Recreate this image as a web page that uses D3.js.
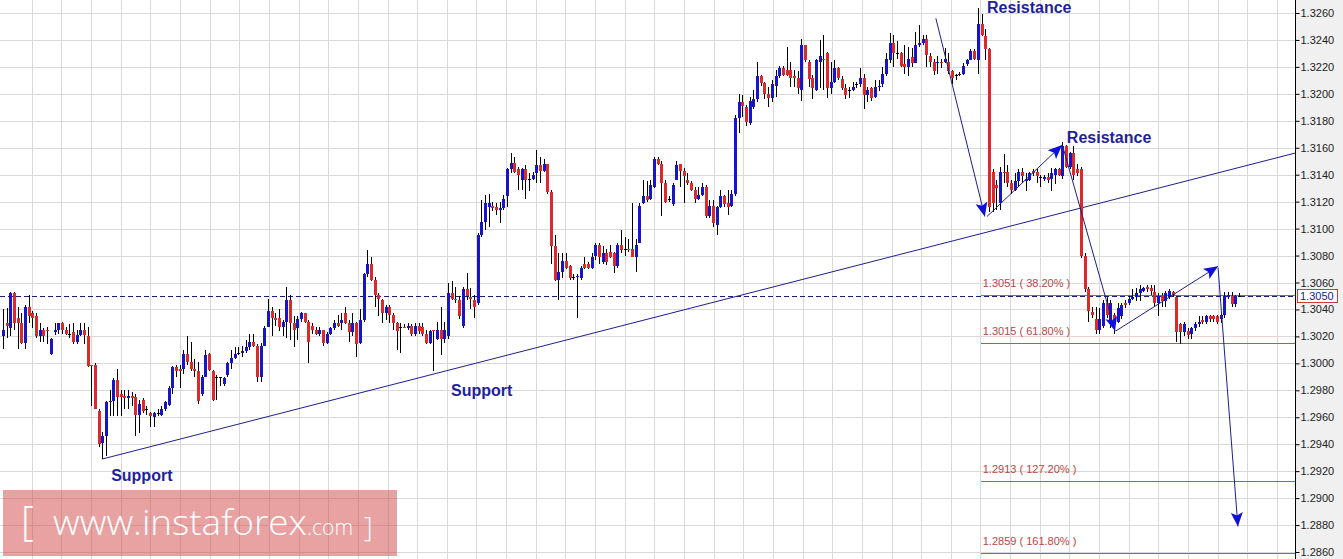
<!DOCTYPE html>
<html><head><meta charset="utf-8">
<script src="https://cdn.jsdelivr.net/npm/d3@7"></script>
<style>html,body{margin:0;padding:0;background:#fff;overflow:hidden}</style>
</head><body>
<svg id="chart" width="1343" height="559"></svg>
<script>
// ---------- DATA ----------
const opens = [1.3020,1.3030,1.3026,1.3052,1.3034,1.3030,1.3015,1.3042,1.3037,1.3035,1.3020,1.3025,1.3025,1.3007,1.3023,1.3025,1.3030,1.3025,1.3022,1.3023,
1.3016,1.3021,1.3025,1.3020,1.2999,1.2999,1.2965,1.2941,1.2946,1.2971,1.2972,1.2988,1.2977,1.2976,1.2974,1.2976,1.2975,1.2962,1.2973,1.2966,
1.2963,1.2960,1.2963,1.2962,1.2966,1.2969,1.2982,1.2997,1.2996,1.2996,1.3007,1.3001,1.2996,1.2994,1.2977,1.2990,1.3007,1.2994,1.2990,1.2990,
1.2985,1.2991,1.3000,1.3004,1.3008,1.3008,1.3009,1.3012,1.3016,1.3013,1.2990,1.3013,1.3027,1.3039,1.3034,1.3034,1.3027,1.3031,1.3047,1.3030,
1.3026,1.3033,1.3037,1.3031,1.3028,1.3025,1.3022,1.3025,1.3015,1.3022,1.3026,1.3030,1.3030,1.3037,1.3030,1.3023,1.3030,1.3015,1.3032,1.3066,
1.3074,1.3062,1.3051,1.3047,1.3037,1.3042,1.3036,1.3030,1.3027,1.3027,1.3026,1.3028,1.3022,1.3028,1.3027,1.3022,1.3015,1.3025,1.3018,1.3025,
1.3018,1.3020,1.3052,1.3048,1.3047,1.3028,1.3055,1.3049,1.3047,1.3045,1.3095,1.3105,1.3116,1.3117,1.3116,1.3114,1.3115,1.3124,1.3144,1.3149,
1.3144,1.3136,1.3144,1.3137,1.3137,1.3141,1.3147,1.3143,1.3148,1.3127,1.3087,1.3062,1.3068,1.3076,1.3072,1.3064,1.3064,1.3063,1.3074,1.3074,
1.3071,1.3080,1.3088,1.3075,1.3082,1.3083,1.3082,1.3072,1.3088,1.3085,1.3085,1.3085,1.3079,1.3089,1.3119,1.3124,1.3122,1.3131,1.3152,1.3148,
1.3134,1.3122,1.3118,1.3136,1.3148,1.3143,1.3136,1.3134,1.3129,1.3122,1.3125,1.3131,1.3109,1.3117,1.3103,1.3116,1.3124,1.3119,1.3117,1.3126,
1.3182,1.3194,1.3190,1.3178,1.3190,1.3196,1.3213,1.3208,1.3200,1.3197,1.3206,1.3213,1.3219,1.3218,1.3218,1.3213,1.3212,1.3203,1.3236,1.3224,
1.3212,1.3203,1.3224,1.3226,1.3230,1.3204,1.3209,1.3219,1.3211,1.3204,1.3203,1.3203,1.3207,1.3207,1.3212,1.3199,1.3204,1.3198,1.3205,1.3207,
1.3215,1.3225,1.3238,1.3230,1.3230,1.3222,1.3220,1.3227,1.3223,1.3236,1.3238,1.3241,1.3228,1.3224,1.3223,1.3224,1.3224,1.3224,1.3217,1.3214,
1.3214,1.3215,1.3222,1.3225,1.3232,1.3225,1.3252,1.3243,1.3233,1.3142,1.3132,1.3119,1.3142,1.3142,1.3134,1.3129,1.3135,1.3142,1.3135,1.3136,
1.3143,1.3142,1.3138,1.3137,1.3138,1.3137,1.3140,1.3144,1.3139,1.3161,1.3146,1.3156,1.3144,1.3144,1.3080,1.3055,1.3038,1.3033,1.3025,1.3028,
1.3045,1.3029,1.3036,1.3031,1.3035,1.3045,1.3045,1.3048,1.3049,1.3052,1.3054,1.3057,1.3056,1.3053,1.3045,1.3051,1.3046,1.3050,1.3053,1.3049,
1.3029,1.3023,1.3024,1.3022,1.3026,1.3029,1.3032,1.3031,1.3035,1.3035,1.3035,1.3033,1.3036,1.3049,1.3050,1.3044,1.3050];
const highs = [1.3040,1.3041,1.3053,1.3053,1.3042,1.3037,1.3043,1.3051,1.3039,1.3037,1.3030,1.3026,1.3027,1.3019,1.3030,1.3030,1.3031,1.3027,1.3029,1.3030,
1.3025,1.3030,1.3030,1.3027,1.2999,1.3000,1.2966,1.2949,1.2972,1.2980,1.2989,1.2996,1.2980,1.2980,1.2980,1.2979,1.2977,1.2973,1.2974,1.2968,
1.2964,1.2964,1.2966,1.2968,1.2972,1.2983,1.2998,1.2999,1.2999,1.3010,1.3020,1.3016,1.3003,1.3001,1.2991,1.3010,1.3008,1.2995,1.2991,1.2990,
1.2990,1.3001,1.3010,1.3012,1.3012,1.3013,1.3017,1.3022,1.3022,1.3014,1.3015,1.3028,1.3048,1.3042,1.3037,1.3040,1.3032,1.3057,1.3051,1.3035,
1.3035,1.3038,1.3037,1.3032,1.3030,1.3027,1.3027,1.3025,1.3023,1.3027,1.3032,1.3036,1.3037,1.3042,1.3032,1.3037,1.3031,1.3040,1.3067,1.3084,
1.3079,1.3064,1.3052,1.3048,1.3043,1.3043,1.3037,1.3031,1.3030,1.3029,1.3030,1.3029,1.3030,1.3030,1.3030,1.3025,1.3025,1.3025,1.3031,1.3042,
1.3031,1.3060,1.3061,1.3057,1.3050,1.3057,1.3067,1.3056,1.3051,1.3097,1.3121,1.3125,1.3126,1.3120,1.3119,1.3120,1.3125,1.3145,1.3156,1.3153,
1.3146,1.3145,1.3147,1.3141,1.3142,1.3158,1.3153,1.3152,1.3148,1.3129,1.3095,1.3082,1.3082,1.3082,1.3073,1.3066,1.3066,1.3072,1.3079,1.3075,
1.3082,1.3089,1.3089,1.3087,1.3085,1.3088,1.3083,1.3089,1.3099,1.3094,1.3092,1.3119,1.3092,1.3119,1.3136,1.3135,1.3136,1.3153,1.3153,1.3150,
1.3136,1.3124,1.3134,1.3150,1.3148,1.3145,1.3141,1.3135,1.3131,1.3131,1.3134,1.3132,1.3121,1.3121,1.3117,1.3129,1.3125,1.3129,1.3129,1.3184,
1.3200,1.3199,1.3192,1.3198,1.3203,1.3224,1.3214,1.3209,1.3205,1.3210,1.3218,1.3221,1.3221,1.3235,1.3224,1.3218,1.3217,1.3241,1.3236,1.3225,
1.3214,1.3226,1.3240,1.3244,1.3231,1.3224,1.3225,1.3220,1.3213,1.3207,1.3205,1.3209,1.3209,1.3219,1.3215,1.3205,1.3205,1.3210,1.3210,1.3220,
1.3230,1.3245,1.3244,1.3239,1.3231,1.3236,1.3235,1.3234,1.3246,1.3251,1.3244,1.3244,1.3230,1.3226,1.3228,1.3226,1.3234,1.3230,1.3218,1.3215,
1.3216,1.3223,1.3226,1.3233,1.3233,1.3264,1.3259,1.3248,1.3234,1.3144,1.3136,1.3146,1.3155,1.3147,1.3136,1.3141,1.3144,1.3145,1.3141,1.3142,
1.3144,1.3144,1.3140,1.3140,1.3141,1.3145,1.3145,1.3145,1.3164,1.3162,1.3157,1.3161,1.3148,1.3146,1.3082,1.3057,1.3042,1.3042,1.3041,1.3047,
1.3049,1.3047,1.3037,1.3045,1.3045,1.3047,1.3050,1.3055,1.3056,1.3058,1.3057,1.3058,1.3058,1.3058,1.3052,1.3052,1.3054,1.3055,1.3054,1.3050,
1.3030,1.3031,1.3026,1.3027,1.3031,1.3035,1.3035,1.3036,1.3036,1.3036,1.3036,1.3038,1.3053,1.3053,1.3053,1.3051,1.3052];
const lows = [1.3011,1.3019,1.3020,1.3025,1.3011,1.3014,1.3011,1.3030,1.3026,1.3019,1.3016,1.3016,1.3014,1.3006,1.3021,1.3022,1.3022,1.3021,1.3019,1.3014,
1.3014,1.3020,1.3014,1.2997,1.2968,1.2966,1.2938,1.2929,1.2931,1.2961,1.2961,1.2961,1.2961,1.2966,1.2966,1.2968,1.2946,1.2948,1.2963,1.2962,
1.2953,1.2953,1.2961,1.2961,1.2965,1.2968,1.2977,1.2990,1.2982,1.2992,1.2999,1.2994,1.2990,1.2970,1.2976,1.2990,1.2994,1.2972,1.2973,1.2983,
1.2983,1.2990,1.2996,1.3003,1.3006,1.3005,1.3008,1.3010,1.3012,1.2986,1.2986,1.3013,1.3027,1.3020,1.3028,1.3024,1.3020,1.3019,1.3017,1.3012,
1.3017,1.3031,1.3030,1.3000,1.3022,1.3021,1.3020,1.3013,1.3014,1.3021,1.3025,1.3027,1.3025,1.3029,1.3016,1.3020,1.3005,1.3014,1.3031,1.3064,
1.3061,1.3042,1.3035,1.3030,1.3032,1.3030,1.3025,1.3010,1.3008,1.3026,1.3025,1.3020,1.3020,1.3022,1.3020,1.3014,1.3014,1.2994,1.3017,1.3006,
1.3015,1.3018,1.3047,1.3045,1.3033,1.3026,1.3047,1.3040,1.3034,1.3043,1.3094,1.3099,1.3101,1.3113,1.3110,1.3104,1.3114,1.3116,1.3141,1.3141,
1.3129,1.3129,1.3122,1.3128,1.3136,1.3134,1.3134,1.3142,1.3126,1.3074,1.3061,1.3047,1.3063,1.3070,1.3062,1.3062,1.3034,1.3062,1.3070,1.3070,
1.3070,1.3077,1.3074,1.3074,1.3073,1.3078,1.3067,1.3071,1.3082,1.3080,1.3083,1.3079,1.3068,1.3089,1.3118,1.3120,1.3121,1.3130,1.3147,1.3109,
1.3119,1.3120,1.3117,1.3136,1.3131,1.3119,1.3132,1.3128,1.3119,1.3121,1.3124,1.3108,1.3108,1.3101,1.3095,1.3115,1.3116,1.3110,1.3116,1.3124,
1.3171,1.3183,1.3176,1.3177,1.3189,1.3194,1.3206,1.3196,1.3190,1.3194,1.3198,1.3212,1.3213,1.3213,1.3205,1.3205,1.3200,1.3195,1.3224,1.3205,
1.3196,1.3202,1.3204,1.3203,1.3197,1.3200,1.3208,1.3210,1.3203,1.3196,1.3197,1.3202,1.3204,1.3205,1.3189,1.3194,1.3195,1.3197,1.3202,1.3205,
1.3213,1.3223,1.3220,1.3226,1.3220,1.3215,1.3213,1.3220,1.3223,1.3235,1.3236,1.3220,1.3220,1.3214,1.3215,1.3219,1.3223,1.3215,1.3207,1.3210,
1.3213,1.3214,1.3221,1.3225,1.3225,1.3215,1.3243,1.3225,1.3112,1.3112,1.3114,1.3114,1.3134,1.3131,1.3126,1.3128,1.3131,1.3134,1.3128,1.3135,
1.3139,1.3134,1.3131,1.3135,1.3134,1.3128,1.3133,1.3139,1.3137,1.3145,1.3144,1.3136,1.3139,1.3078,1.3053,1.3031,1.3034,1.3022,1.3022,1.3026,
1.3034,1.3026,1.3022,1.3030,1.3033,1.3041,1.3043,1.3047,1.3046,1.3046,1.3053,1.3053,1.3051,1.3042,1.3035,1.3042,1.3042,1.3048,1.3049,1.3016,
1.3014,1.3020,1.3018,1.3018,1.3024,1.3027,1.3029,1.3029,1.3031,1.3031,1.3029,1.3030,1.3034,1.3048,1.3042,1.3042,1.3049];
const closes = [1.3025,1.3028,1.3052,1.3030,1.3030,1.3015,1.3042,1.3035,1.3034,1.3020,1.3025,1.3020,1.3024,1.3018,1.3025,1.3030,1.3025,1.3022,1.3022,1.3016,
1.3021,1.3025,1.3021,1.2998,1.2998,1.2966,1.2940,1.2946,1.2971,1.2972,1.2988,1.2975,1.2975,1.2974,1.2976,1.2974,1.2962,1.2970,1.2965,1.2966,
1.2961,1.2963,1.2963,1.2966,1.2971,1.2982,1.2997,1.2994,1.2994,1.3007,1.3001,1.2996,1.2994,1.2972,1.2990,1.3006,1.2995,1.2973,1.2990,1.2990,
1.2989,1.3000,1.3004,1.3007,1.3008,1.3009,1.3012,1.3016,1.3013,1.2990,1.3013,1.3026,1.3039,1.3034,1.3032,1.3027,1.3031,1.3047,1.3030,1.3025,
1.3033,1.3037,1.3031,1.3016,1.3025,1.3022,1.3025,1.3015,1.3022,1.3026,1.3030,1.3028,1.3032,1.3030,1.3023,1.3030,1.3014,1.3032,1.3066,1.3074,
1.3062,1.3051,1.3048,1.3037,1.3042,1.3036,1.3030,1.3024,1.3027,1.3026,1.3028,1.3022,1.3028,1.3024,1.3022,1.3015,1.3024,1.3024,1.3025,1.3018,
1.3025,1.3052,1.3048,1.3047,1.3035,1.3055,1.3050,1.3048,1.3042,1.3095,1.3105,1.3119,1.3119,1.3115,1.3114,1.3115,1.3122,1.3144,1.3149,1.3142,
1.3140,1.3144,1.3136,1.3137,1.3140,1.3147,1.3143,1.3148,1.3127,1.3087,1.3062,1.3068,1.3076,1.3071,1.3063,1.3064,1.3065,1.3071,1.3071,1.3071,
1.3079,1.3088,1.3079,1.3082,1.3075,1.3079,1.3072,1.3088,1.3084,1.3085,1.3084,1.3079,1.3088,1.3117,1.3124,1.3121,1.3132,1.3152,1.3148,1.3134,
1.3120,1.3122,1.3132,1.3147,1.3143,1.3139,1.3134,1.3129,1.3122,1.3125,1.3131,1.3109,1.3117,1.3104,1.3116,1.3124,1.3118,1.3116,1.3126,1.3182,
1.3194,1.3191,1.3179,1.3195,1.3196,1.3213,1.3208,1.3200,1.3197,1.3207,1.3213,1.3219,1.3214,1.3214,1.3212,1.3212,1.3204,1.3236,1.3225,1.3211,
1.3204,1.3225,1.3228,1.3225,1.3204,1.3209,1.3219,1.3212,1.3204,1.3199,1.3203,1.3205,1.3207,1.3212,1.3199,1.3203,1.3197,1.3205,1.3206,1.3215,
1.3226,1.3238,1.3230,1.3230,1.3221,1.3220,1.3226,1.3223,1.3236,1.3238,1.3241,1.3229,1.3224,1.3217,1.3224,1.3223,1.3226,1.3217,1.3212,1.3214,
1.3215,1.3221,1.3225,1.3232,1.3226,1.3252,1.3244,1.3233,1.3116,1.3119,1.3130,1.3142,1.3141,1.3134,1.3129,1.3135,1.3142,1.3139,1.3137,1.3141,
1.3141,1.3139,1.3138,1.3138,1.3136,1.3141,1.3144,1.3140,1.3161,1.3146,1.3156,1.3140,1.3141,1.3080,1.3055,1.3039,1.3036,1.3025,1.3033,1.3045,
1.3036,1.3045,1.3030,1.3041,1.3043,1.3043,1.3048,1.3049,1.3052,1.3055,1.3056,1.3055,1.3054,1.3045,1.3050,1.3046,1.3052,1.3054,1.3051,1.3023,
1.3023,1.3029,1.3021,1.3026,1.3029,1.3031,1.3031,1.3035,1.3033,1.3033,1.3031,1.3036,1.3050,1.3051,1.3044,1.3050,1.3050];

const priceTicks = [1.3260,1.3240,1.3220,1.3200,1.3180,1.3160,1.3140,1.3120,1.3100,1.3080,1.3060,1.3040,1.3020,1.3000,1.2980,1.2960,1.2940,1.2920,1.2900,1.2880,1.2860];
const currentPrice = 1.3050;
const fibLevels = [1.3051, 1.3015, 1.2913, 1.2859];
const fibLabels = ["1.3051 ( 38.20% )", "1.3015 ( 61.80% )", "1.2913 ( 127.20% )", "1.2859 ( 161.80% )"];
const fibStartBar = 265.8;
const trendLine = [[27, 1.2929], [351.2, 1.3156]];
const arrowPaths = [
  [[253.6, 1.3256], [266.9, 1.3109]],
  [[267.5, 1.3109], [287.9, 1.3162]],
  [[288.1, 1.3161], [302.3, 1.3024]],
  [[302.5, 1.3024], [330.3, 1.3072]],
  [[330.3, 1.3071], [335.7, 1.2879]]
];
const noteTexts = ["Resistance", "Resistance", "Support", "Support"];
const noteBars = [267.5, 289.2, 121.8, 29.4];
const notePrices = [1.3260, 1.31635, 1.29758, 1.29127];

// ---------- LAYOUT ----------
const W = 1343, H = 559, axisX = 1295;
const svg = d3.select("#chart");
const x = d3.scaleLinear().domain([0, closes.length - 1]).range([3, 1239]);
const y = d3.scaleLinear().domain([1.2860, 1.3260]).range([552, 13]);
const gridX = d3.scaleLinear().domain([0, 42]).range([31.7, 1277]);

svg.append("rect").attr("width", W).attr("height", H).attr("fill", "#ffffff");
svg.append("rect").attr("x", axisX).attr("width", W - axisX).attr("height", H).attr("fill", "#f0f0f0");

// grid
const grid = svg.append("g").attr("stroke", "#d9d9d9").attr("stroke-width", 1).attr("shape-rendering", "crispEdges");
grid.selectAll("line.v").data(d3.range(0, 43)).join("line")
  .attr("x1", d => Math.round(gridX(d)) + 0.5).attr("x2", d => Math.round(gridX(d)) + 0.5)
  .attr("y1", 0).attr("y2", H);
grid.selectAll("line.h").data(priceTicks).join("line")
  .attr("x1", 0).attr("x2", axisX)
  .attr("y1", d => Math.round(y(d)) + 0.5).attr("y2", d => Math.round(y(d)) + 0.5);

// watermark
svg.append("rect").attr("x", 3).attr("y", 490).attr("width", 394).attr("height", 66)
  .attr("fill", "rgb(212,70,70)").attr("fill-opacity", 0.5);
const wm = svg.append("g").attr("fill", "#ffffff").attr("font-family", "'Open Sans', 'Noto Sans', sans-serif").attr("font-weight", 300);
wm.append("text").attr("x", 21).attr("y", 535).attr("font-size", 40).text("[");
wm.append("text").attr("x", 53).attr("y", 535).attr("font-size", 35)
  .attr("textLength", 254).attr("lengthAdjust", "spacingAndGlyphs").text("www.instaforex");
wm.append("text").attr("x", 307).attr("y", 535).attr("font-size", 22)
  .attr("textLength", 46).attr("lengthAdjust", "spacingAndGlyphs").text(".com");
wm.append("text").attr("x", 364).attr("y", 537).attr("font-size", 27).text("]");

// trend line
svg.append("line")
  .attr("x1", x(trendLine[0][0])).attr("y1", y(trendLine[0][1]))
  .attr("x2", x(trendLine[1][0])).attr("y2", y(trendLine[1][1]))
  .attr("stroke", "#1e1e8c").attr("stroke-width", 1);

// fibonacci levels
const fib = svg.append("g");
fib.selectAll("line").data(fibLevels).join("line")
  .attr("x1", x(fibStartBar)).attr("x2", axisX)
  .attr("y1", d => Math.round(y(d)) + 0.5).attr("y2", d => Math.round(y(d)) + 0.5)
  .attr("stroke", "#c9504f").attr("stroke-width", 1).attr("shape-rendering", "crispEdges");
fib.selectAll("text").data(fibLevels).join("text")
  .attr("x", x(fibStartBar) + 2).attr("y", d => y(d) - 8)
  .attr("font-family", "'Liberation Sans', Arial, sans-serif").attr("font-size", 11)
  .attr("fill", "#b84646").text((d, i) => fibLabels[i]);

// current price dashed line
svg.append("line").attr("x1", 0).attr("x2", axisX)
  .attr("y1", Math.round(y(currentPrice)) + 0.5).attr("y2", Math.round(y(currentPrice)) + 0.5)
  .attr("stroke", "#1c1c7c").attr("stroke-width", 1).attr("stroke-dasharray", "5,3")
  .attr("shape-rendering", "crispEdges");

// candles
const idx = d3.range(closes.length);
const cg = svg.append("g").attr("shape-rendering", "crispEdges");
cg.selectAll("line").data(idx).join("line")
  .attr("x1", i => Math.round(x(i)) + 0.5).attr("x2", i => Math.round(x(i)) + 0.5)
  .attr("y1", i => y(highs[i])).attr("y2", i => y(lows[i]))
  .attr("stroke", "#000").attr("stroke-width", 1);
cg.selectAll("rect").data(idx).join("rect")
  .attr("x", i => Math.round(x(i)) - 1)
  .attr("width", 3)
  .attr("y", i => y(Math.max(opens[i], closes[i])))
  .attr("height", i => Math.max(1, Math.abs(y(opens[i]) - y(closes[i]))))
  .attr("fill", i => closes[i] > opens[i] + 0.00002 ? "#1616c8" : (closes[i] < opens[i] - 0.00002 ? "#da2a2a" : "#000"));

// arrows
const ag = svg.append("g");
arrowPaths.forEach(seg => {
  const x1 = x(seg[0][0]), y1 = y(seg[0][1]), x2 = x(seg[1][0]), y2 = y(seg[1][1]);
  ag.append("line").attr("x1", x1).attr("y1", y1).attr("x2", x2).attr("y2", y2)
    .attr("stroke", "#1e1e8c").attr("stroke-width", 1);
  const len = Math.hypot(x2 - x1, y2 - y1), ux = (x2 - x1) / len, uy = (y2 - y1) / len;
  const L = 14, Wd = 6;
  const bx = x2 - ux * L, by = y2 - uy * L;
  ag.append("path")
    .attr("d", `M${x2},${y2}L${bx - uy * Wd},${by + ux * Wd}L${bx + ux * 3},${by + uy * 3}L${bx + uy * Wd},${by - ux * Wd}Z`)
    .attr("fill", "#1010dc");
});

// notes
svg.selectAll("text.note").data(noteTexts).join("text").attr("class", "note")
  .attr("x", (d, i) => x(noteBars[i])).attr("y", (d, i) => y(notePrices[i]))
  .attr("font-family", "'Liberation Sans', Arial, sans-serif").attr("font-weight", "bold")
  .attr("font-size", 16).attr("fill", "#1f1f9c").text(d => d);

// right axis
const axis = d3.axisRight(y).tickValues(priceTicks).tickFormat(d3.format(".4f")).tickSize(4).tickPadding(1);
const ax = svg.append("g").attr("transform", `translate(${axisX + 0.5},0)`).call(axis);
ax.select(".domain").remove();
ax.selectAll(".tick line").attr("stroke", "#000");
ax.selectAll(".tick text").attr("font-family", "'Liberation Sans', Arial, sans-serif")
  .attr("font-size", 11).attr("fill", "#222");
svg.append("line").attr("x1", axisX + 0.5).attr("x2", axisX + 0.5).attr("y1", 0).attr("y2", H)
  .attr("stroke", "#000").attr("stroke-width", 1);

// current price box
const cy = y(currentPrice);
svg.append("rect").attr("x", axisX + 2.5).attr("y", Math.round(cy) - 6.5).attr("width", 40).attr("height", 13)
  .attr("fill", "#ffffff").attr("stroke", "#c83c3c").attr("stroke-width", 1);
svg.append("text").attr("x", axisX + 5).attr("y", cy + 4)
  .attr("font-family", "'Liberation Sans', Arial, sans-serif").attr("font-size", 11)
  .attr("fill", "#1c1c8c").text(d3.format(".4f")(currentPrice));
</script>
</body></html>
